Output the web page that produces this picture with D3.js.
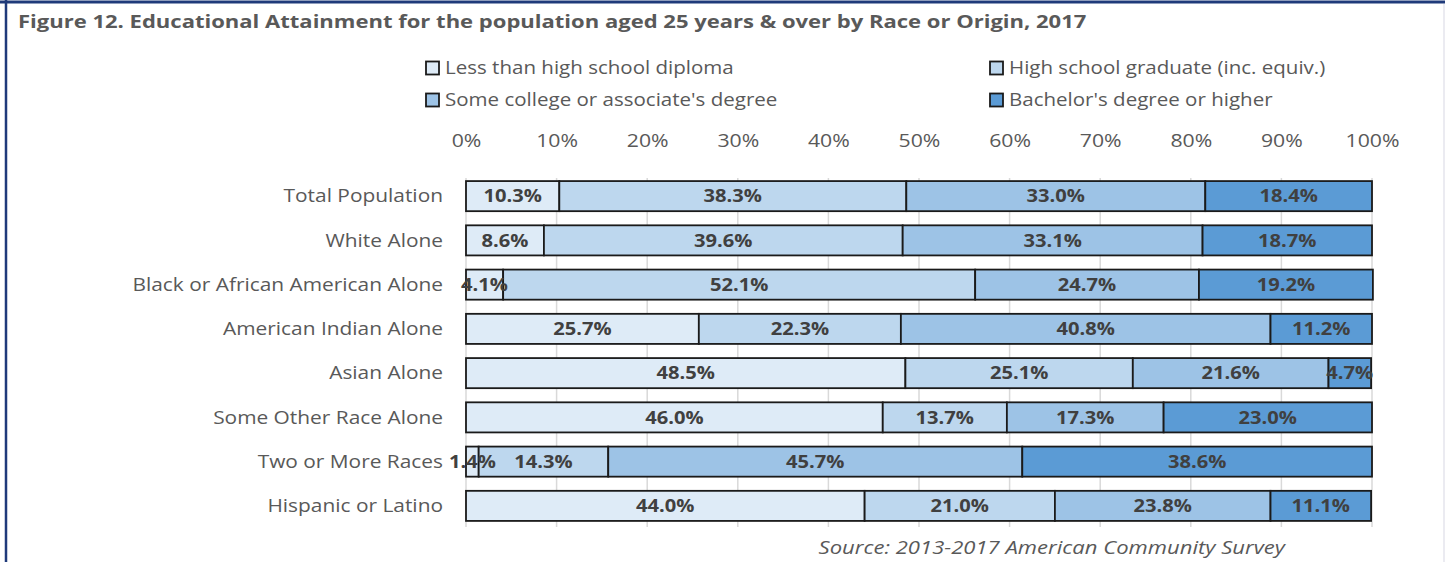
<!DOCTYPE html>
<html><head><meta charset="utf-8">
<script src="https://cdn.jsdelivr.net/npm/d3@7"></script>
<style>
html,body{margin:0;padding:0;background:#fff;}
svg{display:block;font-family:"Open Sans",sans-serif;}
</style></head>
<body>
<svg id="chart" width="1445" height="562"></svg>
<script>
const categories = ["Total Population","White Alone","Black or African American Alone","American Indian Alone","Asian Alone","Some Other Race Alone","Two or More Races","Hispanic or Latino"];
const seriesNames = ["Less than high school diploma","High school graduate (inc. equiv.)","Some college or associate's degree","Bachelor's degree or higher"];
const lessThanHS = [10.3, 8.6, 4.1, 25.7, 48.5, 46.0, 1.4, 44.0];
const hsGraduate = [38.3, 39.6, 52.1, 22.3, 25.1, 13.7, 14.3, 21.0];
const someCollege = [33.0, 33.1, 24.7, 40.8, 21.6, 17.3, 45.7, 23.8];
const bachelors = [18.4, 18.7, 19.2, 11.2, 4.7, 23.0, 38.6, 11.1];
const tickValues = [0,10,20,30,40,50,60,70,80,90,100];
const colors = ["#DEEBF7","#BDD7EE","#9DC3E6","#5B9BD5"];

const seriesValues = [lessThanHS, hsGraduate, someCollege, bachelors];
const rows = categories.map((c,i)=>{
  const o = {cat:c};
  seriesNames.forEach((s,j)=>o[s]=seriesValues[j][i]);
  return o;
});
const stacked = d3.stack().keys(seriesNames)(rows);

const svg = d3.select("#chart");
const W = 1445, H = 562;
const FONT = "'Open Sans',sans-serif";

// widen glyphs horizontally (reference face is wider than available fonts)
function widen(sel, k){
  sel.each(function(){
    const w = this.getComputedTextLength();
    d3.select(this).attr("textLength", w*k).attr("lengthAdjust","spacingAndGlyphs");
  });
}

// frame
svg.append("line").attr("x1",0).attr("x2",W).attr("y1",2).attr("y2",2).attr("stroke","#1F3A7A").attr("stroke-width",3);
svg.append("line").attr("x1",6).attr("x2",6).attr("y1",0).attr("y2",H).attr("stroke","#1F3A7A").attr("stroke-width",2.5);
svg.append("line").attr("x1",W-1).attr("x2",W-1).attr("y1",4).attr("y2",H).attr("stroke","#E4E4EC").attr("stroke-width",1.5);

// title
const title = svg.append("text").attr("x",18).attr("y",28).attr("font-weight","bold").attr("font-size",18.5)
  .attr("fill","#595959").text("Figure 12. Educational Attainment for the population aged 25 years & over by Race or Origin, 2017");
widen(title, 1.19);

const x = d3.scaleLinear().domain([0,100]).range([466,1372]);
const y = d3.scaleBand().domain(categories).range([174,528]).paddingInner(0.32).paddingOuter(0.16);

// gridlines
const g = svg.append("g");
g.selectAll("line.grid").data(tickValues).join("line")
  .attr("x1",d=>x(d)).attr("x2",d=>x(d)).attr("y1",178).attr("y2",527)
  .attr("stroke","#D9D9D9").attr("stroke-width",1.5);

// top axis labels
const axis = d3.axisTop(x).tickValues(tickValues).tickFormat(d=>d+"%").tickSize(0);
const ax = svg.append("g").attr("transform","translate(0,150)").call(axis);
ax.select(".domain").remove();
ax.selectAll("text").attr("font-size",18).attr("fill","#595959").attr("font-family",FONT);
widen(ax.selectAll("text"), 1.18);

// category labels
const yAxis = d3.axisLeft(y).tickSize(0).tickPadding(0);
const ay = svg.append("g").attr("transform","translate(443,0)").call(yAxis);
ay.select(".domain").remove();
ay.selectAll("text").attr("font-size",18).attr("fill","#595959").attr("font-family",FONT).attr("dy","0.35em");
widen(ay.selectAll("text"), 1.16);

// bars
const layers = svg.append("g").selectAll("g").data(stacked).join("g").attr("fill",(d,i)=>colors[i]);
layers.selectAll("rect").data(d=>d).join("rect")
  .attr("x",d=>x(d[0])).attr("width",d=>x(d[1])-x(d[0]))
  .attr("y",d=>y(d.data.cat)).attr("height",y.bandwidth())
  .attr("stroke","#1a1a1a").attr("stroke-width",1.8);

// value labels
const lbl = svg.append("g").selectAll("g").data(stacked).join("g");
const vt = lbl.selectAll("text").data(d=>d.map(v=>({v, key:d.key}))).join("text")
  .attr("x",d=>x((d.v[0]+d.v[1])/2)).attr("y",d=>y(d.v.data.cat)+y.bandwidth()/2)
  .attr("dy","0.36em").attr("text-anchor","middle").attr("font-weight","bold").attr("font-size",17.5)
  .attr("fill","#404040").text(d=>d.v.data[d.key].toFixed(1)+"%");
widen(vt, 1.15);

// legend
const legendPos = [[426,68],[990,68],[426,100],[990,100]];
const lg = svg.append("g").selectAll("g").data(seriesNames).join("g")
  .attr("transform",(d,i)=>`translate(${legendPos[i][0]},${legendPos[i][1]})`);
lg.append("rect").attr("x",0).attr("y",-6.5).attr("width",13).attr("height",13)
  .attr("fill",(d,i)=>colors[i]).attr("stroke","#1a1a1a").attr("stroke-width",1.8);
const lt = lg.append("text").attr("x",19).attr("y",0).attr("dy","0.35em").attr("font-size",18).attr("fill","#595959").text(d=>d);
widen(lt, 1.14);

// source
const src = svg.append("text").attr("x",1285).attr("y",554).attr("text-anchor","end").attr("font-style","italic")
  .attr("font-size",17.5).attr("fill","#595959").text("Source: 2013-2017 American Community Survey");
widen(src, 1.26);
</script>
</body></html>
